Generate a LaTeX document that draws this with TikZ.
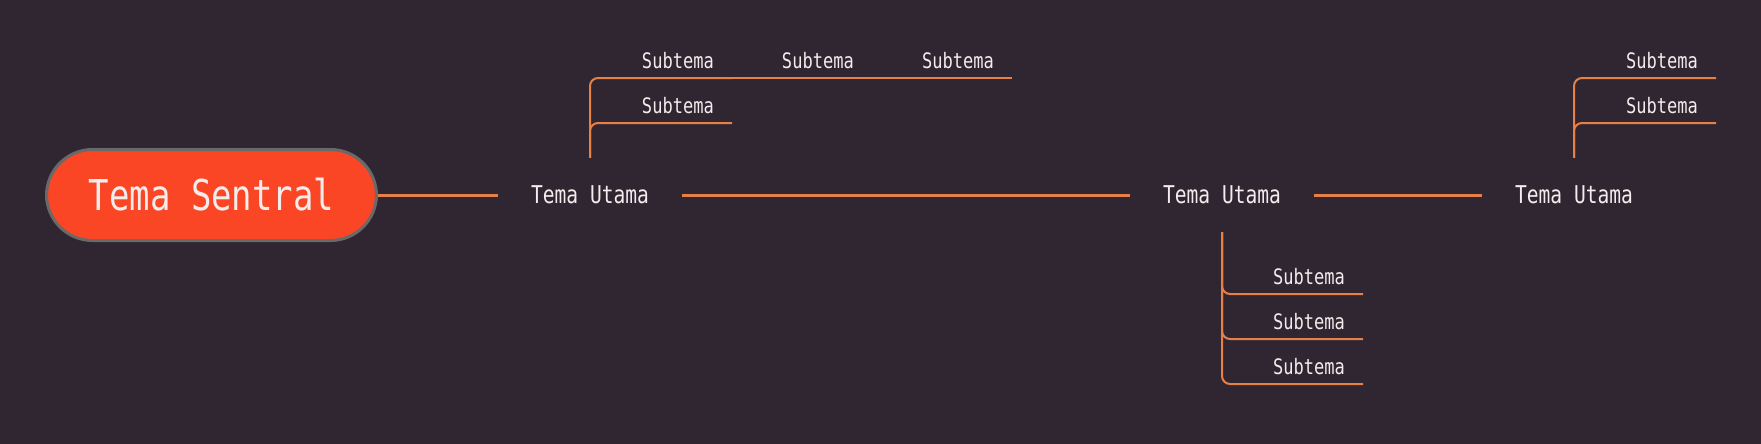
\documentclass[tikz,border=0pt]{standalone}
\usepackage{fontspec}
\setmainfont[FakeStretch=0.8]{DejaVu Sans Mono}
\definecolor{bgc}{RGB}{48,38,50}
\definecolor{linec}{RGB}{230,128,70}
\definecolor{rootc}{RGB}{250,70,36}
\definecolor{rimc}{RGB}{105,105,105}
\definecolor{txtc}{RGB}{242,236,236}
\begin{document}
\begin{tikzpicture}[
  x=1pt, y=-1pt,
  central/.style={draw=rimc, line width=3pt, fill=rootc, rounded corners=46pt,
    minimum width=330pt, minimum height=91pt, text=txtc, font=\fontsize{42.5}{42.5}\selectfont},
  topic/.style={minimum width=184pt, minimum height=74pt, inner sep=0pt,
    text=txtc, font=\fontsize{24.5}{24.5}\selectfont},
  sub/.style={anchor=south east, inner xsep=18pt, inner ysep=9pt,
    text=txtc, font=\fontsize{21.3}{21.3}\selectfont},
  mainE/.style={linec, line width=3pt},
  subE/.style={linec, line width=2pt, rounded corners=8pt}
]
\fill[bgc] (0,0) rectangle (1761,444);
\useasboundingbox (0,0) rectangle (1761,444);

% --- root and main topics ---
\node[central] (root) at (211.5,195) {Tema Sentral};
\node[topic] (t1) at (590,195) {Tema Utama};
\node[topic] (t2) at (1222,195) {Tema Utama};
\node[topic] (t3) at (1574,195) {Tema Utama};

\draw[mainE] (root.east) -- (t1.west);
\draw[mainE] (t1.east) -- (t2.west);
\draw[mainE] (t2.east) -- (t3.west);

% --- subtopics of t1 (above) ---
\node[sub] (s1a) at (732,78) {Subtema};
\node[sub] (s1b) at (872,78) {Subtema};
\node[sub] (s1c) at (1012,78) {Subtema};
\node[sub] (s1d) at (732,123) {Subtema};

\draw[subE] (t1.north) |- (s1a.south east);
\draw[subE] (t1.north) |- (s1d.south east);
\draw[subE] (s1a.south east) -- (s1b.south east);
\draw[subE] (s1b.south east) -- (s1c.south east);

% --- subtopics of t2 (below) ---
\node[sub] (s2a) at (1363,294) {Subtema};
\node[sub] (s2b) at (1363,339) {Subtema};
\node[sub] (s2c) at (1363,384) {Subtema};

\draw[subE] (t2.south) |- (s2a.south east);
\draw[subE] (t2.south) |- (s2b.south east);
\draw[subE] (t2.south) |- (s2c.south east);

% --- subtopics of t3 (above) ---
\node[sub] (s3a) at (1716,78) {Subtema};
\node[sub] (s3b) at (1716,123) {Subtema};

\draw[subE] (t3.north) |- (s3a.south east);
\draw[subE] (t3.north) |- (s3b.south east);

\end{tikzpicture}
\end{document}
